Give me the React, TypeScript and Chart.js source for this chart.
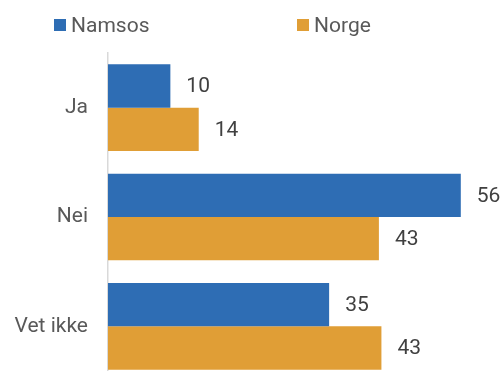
import React, { useEffect, useRef } from "react";
import { Chart, registerables } from "chart.js";

Chart.register(...registerables);

const categories = ["Ja", "Nei", "Vet ikke"];
const namsosValues = [9.9, 56, 35.1];
const norgeValues = [14.4, 43, 43.4];
const seriesNames = ["Namsos", "Norge"];
const seriesColors = ["#2E6DB4", "#E09E36"];

const FONT = "Roboto, 'Noto Sans', sans-serif";

const legendPlugin = {
  id: "customLegend",
  afterDraw(chart: any) {
    const ctx = chart.ctx;
    ctx.save();
    ctx.font = `21px ${FONT}`;
    ctx.textBaseline = "alphabetic";
    ctx.textAlign = "left";
    const positions = [54, 297];
    chart.data.datasets.forEach((ds: any, i: number) => {
      const x = positions[i];
      ctx.fillStyle = ds.backgroundColor;
      ctx.fillRect(x, 19, 12, 12);
      ctx.fillStyle = "#595959";
      ctx.fillText(ds.label, x + 17, 31.5);
    });
    ctx.restore();
  },
};

const valueLabelPlugin = {
  id: "valueLabels",
  afterDatasetsDraw(chart: any) {
    const ctx = chart.ctx;
    ctx.save();
    ctx.font = `21px ${FONT}`;
    ctx.fillStyle = "#404040";
    ctx.textBaseline = "middle";
    ctx.textAlign = "left";
    chart.data.datasets.forEach((ds: any, di: number) => {
      const meta = chart.getDatasetMeta(di);
      meta.data.forEach((el: any, i: number) => {
        const v = ds.data[i];
        ctx.fillText(String(Math.round(v)), el.x + 16, el.y + 1);
      });
    });
    ctx.restore();
  },
};

export default function App() {
  const ref = useRef<HTMLCanvasElement | null>(null);

  useEffect(() => {
    if (!ref.current) return;
    const chart = new Chart(ref.current, {
      type: "bar",
      data: {
        labels: categories,
        datasets: [
          {
            label: seriesNames[0],
            data: namsosValues,
            backgroundColor: seriesColors[0],
            categoryPercentage: 0.793,
            barPercentage: 1,
          },
          {
            label: seriesNames[1],
            data: norgeValues,
            backgroundColor: seriesColors[1],
            categoryPercentage: 0.793,
            barPercentage: 1,
          },
        ],
      },
      options: {
        indexAxis: "y",
        animation: false,
        responsive: false,
        devicePixelRatio: 1,
        layout: { padding: { top: 53, right: 17, left: 0, bottom: 0 } },
        plugins: {
          legend: { display: false },
          tooltip: { enabled: false },
        },
        scales: {
          x: {
            display: false,
            min: 0,
            max: 60,
          },
          y: {
            grid: { display: false, drawTicks: false },
            border: { display: true, color: "#D9D9D9", width: 1.5 },
            ticks: {
              padding: 20,
              color: "#595959",
              font: { family: FONT, size: 21 },
            },
            afterFit(scale: any) {
              scale.width = 108;
              scale.paddingTop = 0;
              scale.paddingBottom = 0;
            },
          },
        },
      },
      plugins: [legendPlugin, valueLabelPlugin],
    } as any);
    return () => chart.destroy();
  }, []);

  return (
    <div
      style={{
        position: "fixed",
        top: 0,
        left: 0,
        width: 503,
        height: 371,
        overflow: "hidden",
        background: "#ffffff",
      }}
    >
      <canvas ref={ref} width={503} height={381} style={{ width: 503, height: 381, display: "block" }} />
    </div>
  );
}
